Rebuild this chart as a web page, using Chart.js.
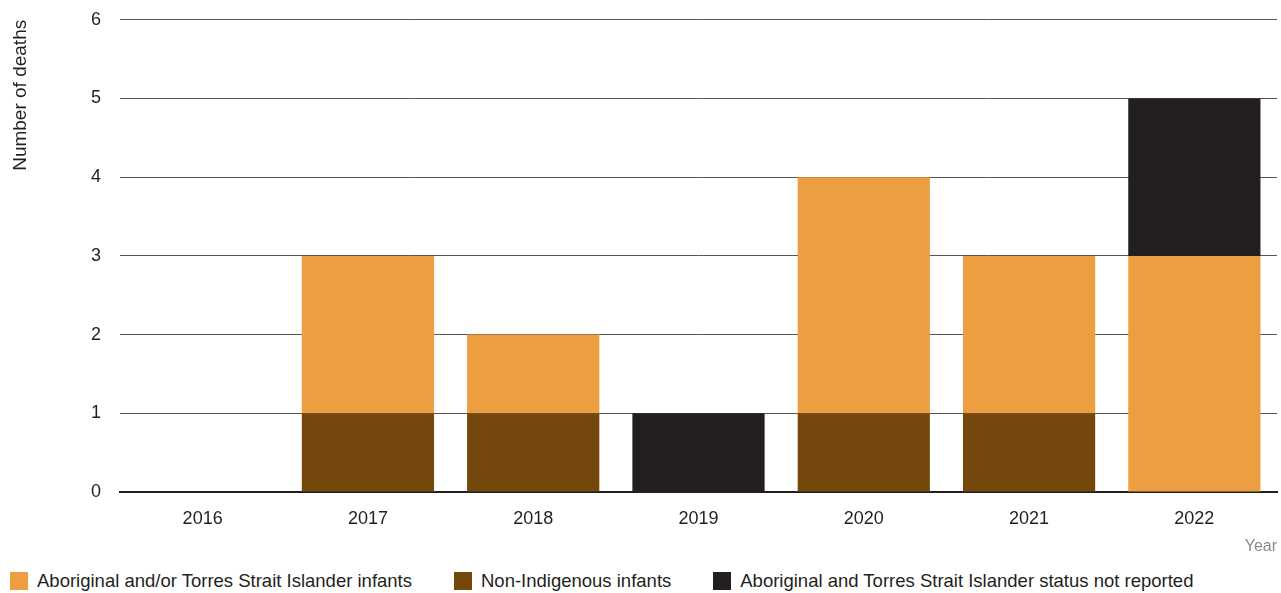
<!DOCTYPE html>
<html>
<head>
<meta charset="utf-8">
<script src="https://cdn.jsdelivr.net/npm/chart.js@4/dist/chart.umd.min.js"></script>
<style>
  body { margin: 0; background: #fff; font-family: "Liberation Sans", Arial, sans-serif; }
  #wrap { position: absolute; left: 0; top: -10px; width: 1281px; height: 575px; }
  #legend { position: absolute; left: 10px; top: 570px; display: flex; font-size: 18.5px; color: #231f20; }
  .item { display: flex; align-items: center; margin-right: 42px; }
  .box { width: 18px; height: 18px; margin-right: 9px; }
</style>
</head>
<body>
<div id="wrap"><canvas id="chart"></canvas></div>
<div id="legend"></div>
<script>
// data
const years = ['2016', '2017', '2018', '2019', '2020', '2021', '2022'];
const aboriginal = [0, 2, 1, 0, 3, 2, 3];
const nonIndigenous = [0, 1, 1, 0, 1, 1, 0];
const notReported = [0, 0, 0, 1, 0, 0, 2];

const COR = { laranja: '#ed9e40', marrom: '#74480c', preto: '#231f20' };
const TEXTO = '#231f20';
const FONTE = 'Liberation Sans';

// stack order (bottom to top): brown, orange, black
const series = [
  { label: 'Non-Indigenous infants', data: nonIndigenous, cor: COR.marrom },
  { label: 'Aboriginal and/or Torres Strait Islander infants', data: aboriginal, cor: COR.laranja },
  { label: 'Aboriginal and Torres Strait Islander status not reported', data: notReported, cor: COR.preto }
];
const ordemLegenda = [1, 0, 2];

new Chart(document.getElementById('chart'), {
  type: 'bar',
  data: {
    labels: years,
    datasets: series.map(s => ({
      label: s.label, data: s.data, backgroundColor: s.cor,
      borderWidth: 0, categoryPercentage: 0.8, barPercentage: 1
    }))
  },
  options: {
    responsive: true, maintainAspectRatio: false, animation: false,
    layout: { padding: { top: 1, right: 4, left: 0, bottom: 0 } },
    plugins: { legend: { display: false }, tooltip: { enabled: false } },
    scales: {
      x: {
        stacked: true,
        afterFit: (s) => { s.height = 73; },
        grid: { display: false },
        border: { color: TEXTO, width: 2 },
        ticks: { color: TEXTO, font: { family: FONTE, size: 18 }, padding: 8 },
        title: { display: true, text: 'Year', align: 'end', color: '#8a8a8a',
          font: { family: FONTE, size: 16 }, padding: { top: 8, bottom: 9 } }
      },
      y: {
        stacked: true, min: 0, max: 6,
        afterFit: (s) => { s.width = 120; },
        grid: { color: '#555', lineWidth: 1, drawTicks: false },
        border: { display: false },
        ticks: { stepSize: 1, color: TEXTO, font: { family: FONTE, size: 18 }, padding: 19 },
        title: { display: true, text: 'Number of deaths', align: 'end', color: TEXTO,
          font: { family: FONTE, size: 19 }, padding: { top: 9, bottom: 0 } }
      }
    }
  }
});

const leg = document.getElementById('legend');
for (const i of ordemLegenda) {
  const s = series[i];
  const it = document.createElement('div');
  it.className = 'item';
  it.innerHTML = '<div class="box" style="background:' + s.cor + '"></div><span>' + s.label + '</span>';
  leg.appendChild(it);
}
</script>
</body>
</html>
